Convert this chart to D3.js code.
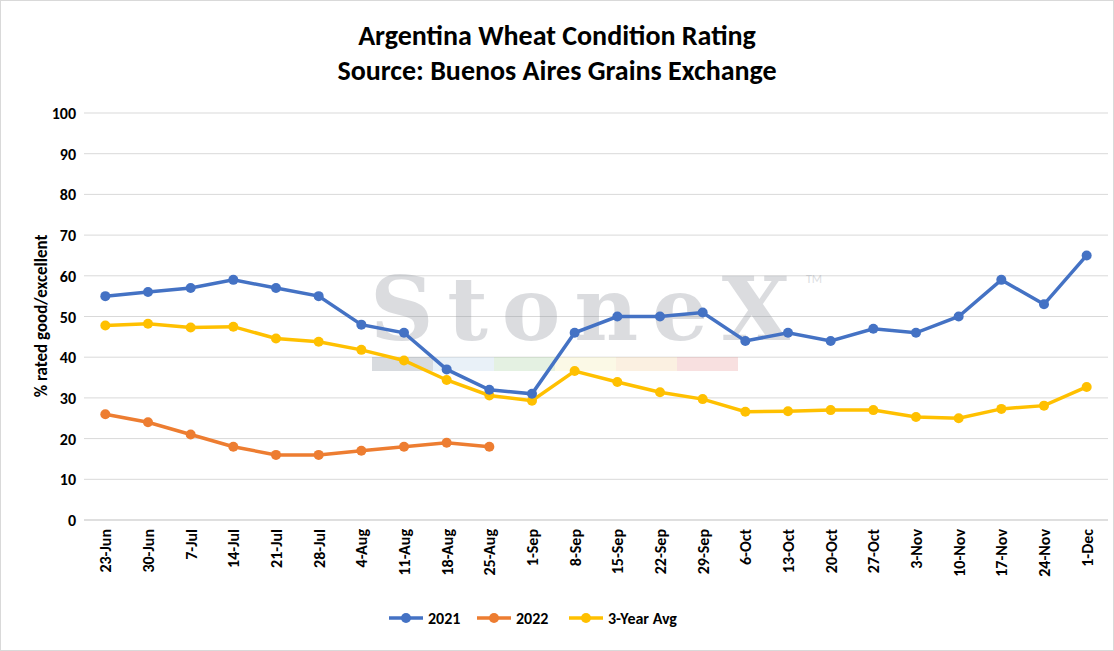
<!DOCTYPE html>
<html><head><meta charset="utf-8">
<script src="https://cdn.jsdelivr.net/npm/d3@7"></script>
<style>body{margin:0;background:#fff;font-family:Calibri,"Open Sans",Arial,sans-serif}</style>
</head><body><svg id="chart" width="1114" height="651"></svg>
<script>
var categories = ["23-Jun","30-Jun","7-Jul","14-Jul","21-Jul","28-Jul","4-Aug","11-Aug","18-Aug","25-Aug","1-Sep","8-Sep","15-Sep","22-Sep","29-Sep","6-Oct","13-Oct","20-Oct","27-Oct","3-Nov","10-Nov","17-Nov","24-Nov","1-Dec"];
var values2021 = [55,56,57,59,57,55,48,46,37,32,31,46,50,50,51,44,46,44,47,46,50,59,53,65];
var values2022 = [26,24,21,18,16,16,17,18,19,18];
var valuesAvg = [47.8,48.2,47.3,47.5,44.6,43.8,41.8,39.2,34.4,30.6,29.3,36.6,33.9,31.4,29.7,26.6,26.7,27,27,25.3,25,27.3,28.1,32.7];
var yTicks = [0,10,20,30,40,50,60,70,80,90,100];

var svg = d3.select("#chart");
svg.append("rect").attr("x",0.5).attr("y",0.5).attr("width",1113).attr("height",650).attr("fill","#fff").attr("stroke","#d9d9d9");

var x = d3.scaleBand().domain(categories).range([84,1108]);
var y = d3.scaleLinear().domain([0,100]).range([520,113]);

svg.append("text").attr("x",557).attr("y",45).attr("text-anchor","middle").style("font-size","28px").style("font-weight","bold").text("Argentina Wheat Condition Rating");
svg.append("text").attr("x",557).attr("y",80).attr("text-anchor","middle").style("font-size","28px").style("font-weight","bold").text("Source: Buenos Aires Grains Exchange");

svg.append("g").selectAll("line").data(yTicks).enter().append("line")
  .attr("x1",84).attr("x2",1108).attr("y1",function(d){return y(d);}).attr("y2",function(d){return y(d);})
  .attr("stroke",function(d){return d===0?"#bfbfbf":"#d9d9d9";});
svg.append("g").selectAll("text").data(yTicks).enter().append("text")
  .attr("x",76).attr("y",function(d){return y(d)+6;}).attr("text-anchor","end")
  .style("font-size","16px").style("font-weight","bold").text(function(d){return d;});

// watermark
var wm = svg.append("g").attr("opacity",0.3);
wm.append("text").attr("x",580).attr("y",340).attr("text-anchor","middle").attr("textLength",420).style("font-family","'DejaVu Serif',serif").style("font-size","88px").style("font-weight","bold").attr("fill","#8a8f99").text("StoneX");
wm.append("text").attr("x",806).attr("y",283).style("font-size","12px").attr("fill","#8a8f99").text("TM");
var wmColors = ["#7f8a99","#b9d3ea","#a9d2a0","#f3ecae","#f4cf9e","#e99a9a"];
wm.selectAll("rect").data(wmColors).enter().append("rect")
  .attr("x",function(d,i){return 372+i*61;}).attr("y",357).attr("width",61).attr("height",14).attr("fill",function(d){return d;});

svg.append("g").selectAll("text").data(categories).enter().append("text")
  .attr("transform",function(d){return "translate("+(x(d)+x.bandwidth()/2+6)+",529) rotate(-90)";})
  .attr("text-anchor","end").style("font-size","16px").style("font-weight","bold").text(function(d){return d;});

svg.append("text").attr("transform","translate(47,316) rotate(-90)").attr("text-anchor","middle")
  .style("font-size","17px").style("font-weight","bold").text("% rated good/excellent");

var series = [
  {name:"2021",color:"#4472c4",data:values2021},
  {name:"2022",color:"#ed7d31",data:values2022},
  {name:"3-Year Avg",color:"#ffc000",data:valuesAvg}
];
var line = d3.line().x(function(d,i){return x(categories[i])+x.bandwidth()/2;}).y(function(d){return y(d);});
[2,1,0].forEach(function(k){
  var s = series[k];
  svg.append("path").datum(s.data).attr("d",line).attr("fill","none").attr("stroke",s.color).attr("stroke-width",3.5);
  svg.append("g").selectAll("circle").data(s.data).enter().append("circle")
    .attr("cx",function(d,i){return x(categories[i])+x.bandwidth()/2;}).attr("cy",function(d){return y(d);})
    .attr("r",5).attr("fill",s.color);
});

var legX = [389,477,569];
series.forEach(function(s,i){
  var g = svg.append("g").attr("transform","translate("+legX[i]+",618)");
  g.append("line").attr("x1",0).attr("x2",34).attr("stroke",s.color).attr("stroke-width",3.5);
  g.append("circle").attr("cx",17).attr("r",5).attr("fill",s.color);
  g.append("text").attr("x",39).attr("y",6).style("font-size","16px").style("font-weight","bold").text(s.name);
});
</script></body></html>
